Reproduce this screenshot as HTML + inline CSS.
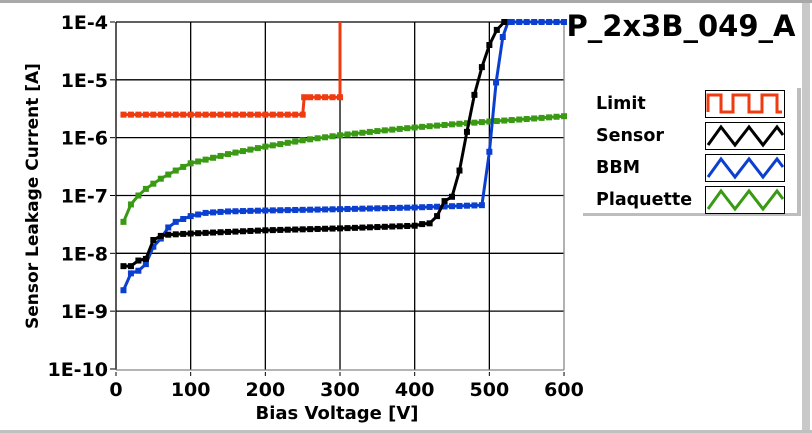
<!DOCTYPE html>
<html><head><meta charset="utf-8"><style>
html,body{margin:0;padding:0;background:#fff;}
body{width:812px;height:433px;overflow:hidden;position:relative;font-family:"Liberation Sans","DejaVu Sans",sans-serif;}
</style></head><body>
<svg id="s" width="812" height="433" xmlns="http://www.w3.org/2000/svg" style="position:absolute;left:0;top:0">
<rect x="0" y="0" width="812" height="3" fill="#a8a8a8"/>
<rect x="802" y="3" width="8" height="430" fill="#c8c8c8"/>
<rect x="0" y="430" width="812" height="3" fill="#c0c0c0"/>
<g id="grid"></g>
<g id="data"></g>
<text x="681" y="36" font-size="29" font-weight="bold" text-anchor="middle" font-family="DejaVu Sans, sans-serif">P_2x3B_049_A</text>
<rect x="797" y="88" width="4" height="128" fill="#bdbdbd"/>
<rect x="583" y="213" width="218" height="3" fill="#bdbdbd"/>
<g font-size="17.5" font-weight="bold" font-family="DejaVu Sans, sans-serif">
<text x="596" y="109">Limit</text>
<text x="596" y="141">Sensor</text>
<text x="596" y="173">BBM</text>
<text x="596" y="205">Plaquette</text>
</g>
<g id="leg"></g>
<g font-size="19" font-weight="bold" font-family="DejaVu Sans, sans-serif" id="lab"></g>
<text transform="translate(38,196) rotate(-90)" font-size="17" font-weight="bold" text-anchor="middle" font-family="DejaVu Sans, sans-serif">Sensor Leakage Current [A]</text>
<text x="337" y="419" font-size="18" font-weight="bold" text-anchor="middle" font-family="DejaVu Sans, sans-serif">Bias Voltage [V]</text>
</svg>
<script>
var NS="http://www.w3.org/2000/svg";
function el(p,t,a,txt){var e=document.createElementNS(NS,t);for(var k in a)e.setAttribute(k,a[k]);if(txt!==undefined)e.textContent=txt;document.getElementById(p).appendChild(e);return e;}
function X(v){return 116+v*0.7467;}
function Y(i){return 22+(-4-Math.log10(i))*57.83;}
for(var k=1;k<=5;k++){var x=X(k*100);el("grid","line",{x1:x,y1:22,x2:x,y2:370,stroke:"#000","stroke-width":1.3});}
for(var d=-5;d>=-9;d--){var y=Y(Math.pow(10,d));el("grid","line",{x1:116,y1:y,x2:564,y2:y,stroke:"#000","stroke-width":1.3});}
el("grid","line",{x1:116,y1:22,x2:564,y2:22,stroke:"#000","stroke-width":1.3});
el("grid","line",{x1:116,y1:22,x2:116,y2:370,stroke:"#000","stroke-width":1.3});
el("grid","line",{x1:564,y1:22,x2:564,y2:370,stroke:"#888","stroke-width":1.3});
el("grid","line",{x1:116,y1:370,x2:564,y2:370,stroke:"#888","stroke-width":1.3});
for(var k=0;k<=6;k++){var x=X(k*100);el("grid","line",{x1:x,y1:372,x2:x,y2:376,stroke:"#000"});el("lab","text",{x:x,y:396,"text-anchor":"middle"},String(k*100));}
for(var d=-4;d>=-10;d--){var y=Y(Math.pow(10,d));el("grid","line",{x1:110,y1:y,x2:115,y2:y,stroke:"#000"});el("lab","text",{x:108,y:y+7,"text-anchor":"end"},"1E"+d);}
function interp(pts,step){var out=[];for(var v=pts[0][0];v<=pts[pts.length-1][0]+0.01;v+=step){for(var j=0;j<pts.length-1;j++){if(v>=pts[j][0]&&v<=pts[j+1][0]){var t=(v-pts[j][0])/(pts[j+1][0]-pts[j][0]);var l=Math.log10(pts[j][1])*(1-t)+Math.log10(pts[j+1][1])*t;out.push([v,Math.pow(10,l)]);break;}}}return out;}
function series(pts,col){var s="";pts.forEach(function(p,i){s+=(i?"L":"M")+X(p[0]).toFixed(1)+" "+Y(p[1]).toFixed(1);});
el("data","path",{d:s,fill:"none",stroke:col,"stroke-width":3,"stroke-linejoin":"round"});
pts.forEach(function(p){el("data","rect",{x:X(p[0])-3,y:Y(p[1])-3,width:6,height:6,fill:col});});}
var plq=interp([[10,3.5e-8],[20,7e-8],[30,1e-7],[40,1.3e-7],[50,1.6e-7],[60,1.95e-7],[70,2.3e-7],[80,2.7e-7],[100,3.6e-7],[150,5.2e-7],[200,7e-7],[250,9e-7],[300,1.1e-6],[350,1.3e-6],[400,1.5e-6],[450,1.7e-6],[500,1.9e-6],[550,2.1e-6],[600,2.35e-6]],10);
series(plq,"#3a9a14");
var bbm=interp([[10,2.3e-9],[20,4.5e-9],[30,5e-9],[40,6.5e-9],[50,1.3e-8],[60,1.8e-8],[70,2.8e-8],[80,3.5e-8],[100,4.4e-8],[120,5e-8],[150,5.3e-8],[200,5.5e-8],[300,5.8e-8],[400,6.2e-8],[490,6.8e-8]],10);
bbm=bbm.concat([[500,5.7e-7],[509,9e-6],[518,5.5e-5],[525,1e-4]]).concat(interp([[530,1e-4],[600,1e-4]],10));
series(bbm,"#0b3fd0");
var sen=interp([[10,6e-9],[20,6e-9],[30,7.5e-9],[40,8e-9],[50,1.7e-8],[60,2e-8],[70,2.1e-8],[100,2.2e-8],[200,2.5e-8],[300,2.7e-8],[400,3e-8],[410,3.2e-8],[420,3.3e-8],[430,4.4e-8],[440,8e-8],[450,9.5e-8],[460,2.7e-7],[470,1.26e-6],[480,5.5e-6],[490,1.66e-5],[500,4e-5],[510,7.3e-5],[520,1e-4]],10);
series(sen,"#000");
var lim=interp([[10,2.5e-6],[250,2.5e-6]],10).concat([[252,5e-6]]).concat(interp([[260,5e-6],[300,5e-6]],10));
var s="";lim.forEach(function(p,i){s+=(i?"L":"M")+X(p[0]).toFixed(1)+" "+Y(p[1]).toFixed(1);});s+="L"+X(300)+" 22";
el("data","path",{d:s,fill:"none",stroke:"#f03a10","stroke-width":3});
lim.forEach(function(p){el("data","rect",{x:X(p[0])-3,y:Y(p[1])-3,width:6,height:6,fill:"#f03a10"});});
var cols=["#f03a10","#000","#0b3fd0","#3a9a14"];
for(var i=0;i<4;i++){var y0=90+i*32;el("leg","rect",{x:705.5,y:y0+.5,width:79,height:27,fill:"#fff",stroke:"#000"});
var d;if(i==0){var t=y0+5,b=y0+22;d="M708 "+b+"V"+t+"H721V"+b+"H733V"+t+"H749V"+b+"H762V"+t+"H777V"+b+"H782";}
else{d="M708 "+(y0+23)+"L721 "+(y0+5)+"L735 "+(y0+23)+"L749 "+(y0+5)+"L763 "+(y0+23)+"L777 "+(y0+5)+"L783 "+(y0+13);}
el("leg","path",{d:d,fill:"none",stroke:cols[i],"stroke-width":3});}
</script>
</body></html>
